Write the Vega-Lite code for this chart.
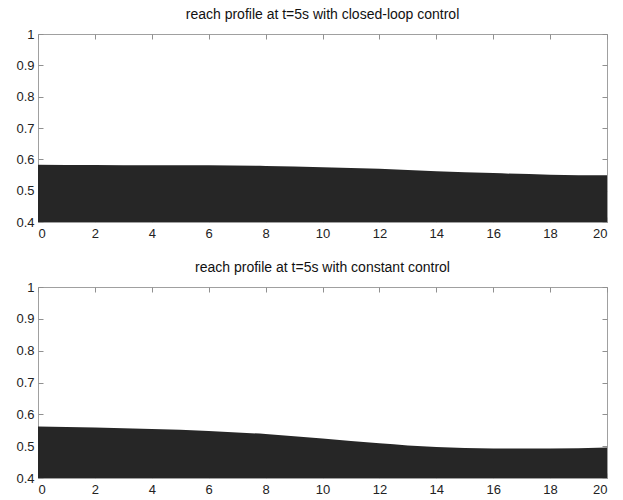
{
  "$schema": "https://vega.github.io/schema/vega-lite/v6.json",
  "background": "white",
  "padding": {"left": 15, "top": 7, "right": 5, "bottom": 0},
  "config": {
    "font": "Liberation Sans",
    "view": {"stroke": "#a0a0a0", "strokeWidth": 1},
    "axis": {
      "grid": false,
      "domain": false,
      "tickColor": "#909090",
      "tickSize": -5,
      "labelColor": "#222222",
      "labelFont": "Liberation Sans",
      "labelFontSize": 13,
      "format": "~g",
      "title": null
    },
    "title": {"font": "Liberation Sans", "fontSize": 14, "fontWeight": "normal", "color": "#111111", "offset": 6}
  },
  "spacing": 19,
  "vconcat": [
    {
      "width": 569,
      "height": 188,
      "title": "reach profile at t=5s with closed-loop control",
      "data": {"values": [
        {"x": 0, "y": 0.583}, {"x": 2, "y": 0.582}, {"x": 4, "y": 0.581}, {"x": 6, "y": 0.581},
        {"x": 8, "y": 0.579}, {"x": 10, "y": 0.575}, {"x": 12, "y": 0.570}, {"x": 14, "y": 0.562},
        {"x": 16, "y": 0.556}, {"x": 18, "y": 0.551}, {"x": 20, "y": 0.549}
      ]},
      "layer": [
        {
          "mark": {"type": "area", "color": "#262626", "clip": true, "interpolate": "monotone"},
          "encoding": {
            "x": {"field": "x", "type": "quantitative", "scale": {"domain": [0, 20], "nice": false},
                  "axis": {"orient": "bottom", "values": [0,2,4,6,8,10,12,14,16,18,20], "labelPadding": 10}},
            "y": {"field": "y", "type": "quantitative", "scale": {"domain": [0.4, 1], "nice": false, "zero": false},
                  "axis": {"orient": "left", "values": [0.4,0.5,0.6,0.7,0.8,0.9,1], "labelPadding": 9}},
            "y2": {"datum": 0.4}
          }
        },
        {
          "mark": {"type": "line", "opacity": 0},
          "encoding": {
            "x": {"field": "x", "type": "quantitative", "scale": {"domain": [0, 20], "nice": false},
                  "axis": {"orient": "top", "labels": false, "values": [0,2,4,6,8,10,12,14,16,18,20]}},
            "y": {"field": "y", "type": "quantitative", "scale": {"domain": [0.4, 1], "nice": false, "zero": false},
                  "axis": {"orient": "right", "labels": false, "values": [0.4,0.5,0.6,0.7,0.8,0.9,1]}}
          }
        }
      ],
      "resolve": {"scale": {"x": "independent", "y": "independent"}, "axis": {"x": "independent", "y": "independent"}}
    },
    {
      "width": 569,
      "height": 191,
      "title": "reach profile at t=5s with constant control",
      "data": {"values": [
        {"x": 0, "y": 0.562}, {"x": 2, "y": 0.559}, {"x": 4, "y": 0.554}, {"x": 6, "y": 0.548},
        {"x": 8, "y": 0.538}, {"x": 10, "y": 0.524}, {"x": 12, "y": 0.509}, {"x": 14, "y": 0.497},
        {"x": 16, "y": 0.493}, {"x": 18, "y": 0.493}, {"x": 20, "y": 0.496}
      ]},
      "layer": [
        {
          "mark": {"type": "area", "color": "#262626", "clip": true, "interpolate": "monotone"},
          "encoding": {
            "x": {"field": "x", "type": "quantitative", "scale": {"domain": [0, 20], "nice": false},
                  "axis": {"orient": "bottom", "values": [0,2,4,6,8,10,12,14,16,18,20], "labelPadding": 10}},
            "y": {"field": "y", "type": "quantitative", "scale": {"domain": [0.4, 1], "nice": false, "zero": false},
                  "axis": {"orient": "left", "values": [0.4,0.5,0.6,0.7,0.8,0.9,1], "labelPadding": 9}},
            "y2": {"datum": 0.4}
          }
        },
        {
          "mark": {"type": "line", "opacity": 0},
          "encoding": {
            "x": {"field": "x", "type": "quantitative", "scale": {"domain": [0, 20], "nice": false},
                  "axis": {"orient": "top", "labels": false, "values": [0,2,4,6,8,10,12,14,16,18,20]}},
            "y": {"field": "y", "type": "quantitative", "scale": {"domain": [0.4, 1], "nice": false, "zero": false},
                  "axis": {"orient": "right", "labels": false, "values": [0.4,0.5,0.6,0.7,0.8,0.9,1]}}
          }
        }
      ],
      "resolve": {"scale": {"x": "independent", "y": "independent"}, "axis": {"x": "independent", "y": "independent"}}
    }
  ]
}
